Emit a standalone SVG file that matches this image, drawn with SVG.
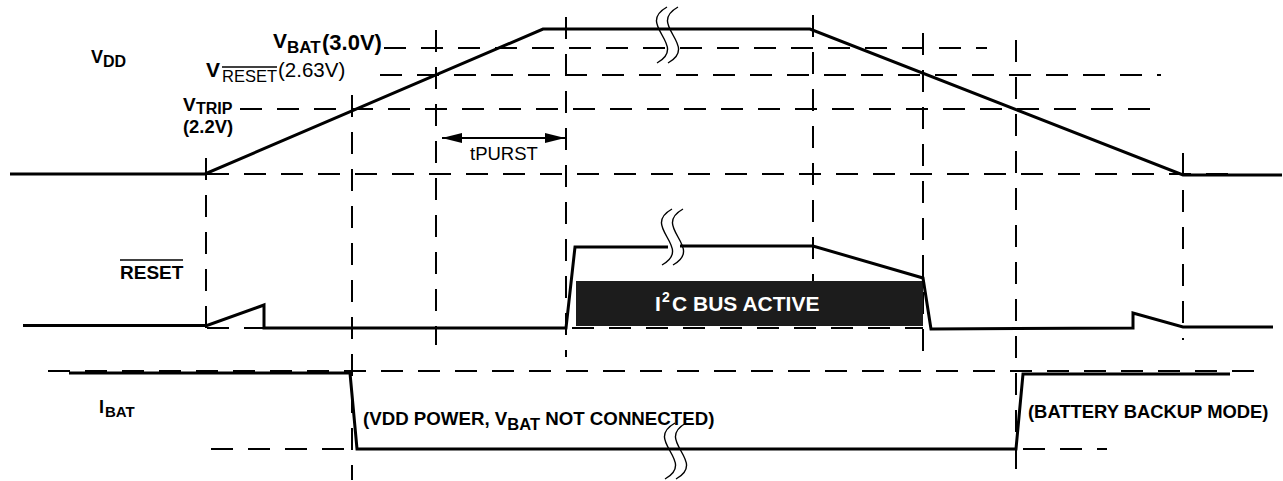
<svg xmlns="http://www.w3.org/2000/svg" width="1283" height="481" viewBox="0 0 1283 481">
<style>
.dash{stroke:#000;stroke-width:2;stroke-dasharray:22 15;fill:none}
.sig{stroke:#000;stroke-width:3;fill:none;stroke-linejoin:miter}
.brk{stroke:#000;stroke-width:1.4;fill:none}
text{font-family:"Liberation Sans",Arial,Helvetica,sans-serif;fill:#000}
.b{font-weight:bold}
.w{fill:#fff}
</style>
<defs>
<marker id="ah" viewBox="0 0 20 10" refX="20" refY="5" markerWidth="20" markerHeight="10" orient="auto-start-reverse" markerUnits="userSpaceOnUse"><path d="M0,0 L20,5 L0,10 z" fill="#000"/></marker>
<g id="brkmark"><path d="M0,0 C-32,18 22,38 -10,56"/><path d="M11,0 C-21,18 33,38 1,56"/></g>
</defs>
<rect width="1283" height="481" fill="#fff"/>
<g id="grid">
<line class="dash" x1="384" y1="48" x2="987" y2="48"/>
<line class="dash" x1="380" y1="75" x2="1161" y2="75"/>
<line class="dash" x1="240" y1="109" x2="1163" y2="109"/>
<line class="dash" x1="207" y1="174" x2="1240" y2="174"/>
<line class="dash" x1="207" y1="328" x2="264" y2="328"/>
<line class="dash" x1="572" y1="328" x2="923" y2="328"/>
<line class="dash" x1="48" y1="371" x2="1258" y2="371"/>
<line class="dash" x1="211" y1="449" x2="352" y2="449"/>
<line class="dash" x1="1023" y1="449" x2="1107" y2="449"/>
<line class="dash" x1="206" y1="158" x2="206" y2="343"/>
<line class="dash" x1="352" y1="95" x2="352" y2="480"/>
<line class="dash" x1="436" y1="30" x2="436" y2="345"/>
<line class="dash" x1="566" y1="17" x2="566" y2="357"/>
<line class="dash" x1="813" y1="15" x2="813" y2="320"/>
<line class="dash" x1="923" y1="33" x2="923" y2="355"/>
<line class="dash" x1="1016" y1="40" x2="1016" y2="476"/>
<line class="dash" x1="1183" y1="153" x2="1183" y2="340"/>
</g>
<g id="box">
<rect x="576" y="281" width="347" height="45" fill="#1c1c1c"/>
<text class="b w" x="655" y="311" font-size="21">I</text>
<text class="b w" x="662" y="302" font-size="14">2</text>
<text class="b w" x="672" y="311" font-size="21">C BUS ACTIVE</text>
</g>
<g id="signals">
<path class="sig" d="M10,174 L205,174 L543,29 L810,29 L1183,175 L1282,175"/>
<path class="sig" d="M23,325.5 L207,325.5 L264,305 L264,328 L566,328 L575,247 L668,247"/>
<path class="sig" d="M680,246 L813,246 L923,278 L931,329 L1133,328 L1133,313 L1183,327 L1273,327"/>
<path class="sig" d="M69,373 L350,373 L357,449 L1016,449 L1023,374 L1230,374"/>
</g>
<g id="breaks" class="brk">
<use href="#brkmark" x="667" y="7"/>
<use href="#brkmark" x="672" y="209"/>
<use href="#brkmark" x="675" y="423"/>
</g>
<g id="tpurst">
<line x1="442" y1="138" x2="565" y2="138" stroke="#000" stroke-width="2" marker-start="url(#ah)" marker-end="url(#ah)"/>
<text x="470" y="160" font-size="18.5">tPURST</text>
</g>
<g id="labels">
<text class="b" x="91" y="63" font-size="18">V</text>
<text class="b" x="103" y="67" font-size="16">DD</text>
<text class="b" x="273" y="48" font-size="21">V</text>
<text class="b" x="287" y="53" font-size="17">BAT</text>
<text class="b" x="322" y="50" font-size="22">(3.0V)</text>
<text class="b" x="206" y="77" font-size="21">V</text>
<text x="222" y="82" font-size="16.5">RESET</text>
<line x1="222" y1="67" x2="277" y2="67" stroke="#000" stroke-width="1.4"/>
<text x="278" y="77" font-size="20.5">(2.63V)</text>
<text class="b" x="183" y="111" font-size="19">V</text>
<text class="b" x="196" y="114" font-size="16">TRIP</text>
<text class="b" x="183" y="133" font-size="18.4">(2.2V)</text>
<text class="b" x="120" y="279" font-size="19">RESET</text>
<line x1="120" y1="260" x2="183" y2="260" stroke="#000" stroke-width="1.6"/>
<text class="b" x="99" y="413" font-size="18">I</text>
<text class="b" x="105" y="417" font-size="15">BAT</text>
<text class="b" x="363" y="425" font-size="18.7">(VDD POWER, V<tspan font-size="16.5" dy="5">BAT</tspan><tspan dy="-5"> NOT CONNECTED)</tspan></text>
<text class="b" x="1028" y="418" font-size="18.4">(BATTERY BACKUP MODE)</text>
</g>
</svg>
